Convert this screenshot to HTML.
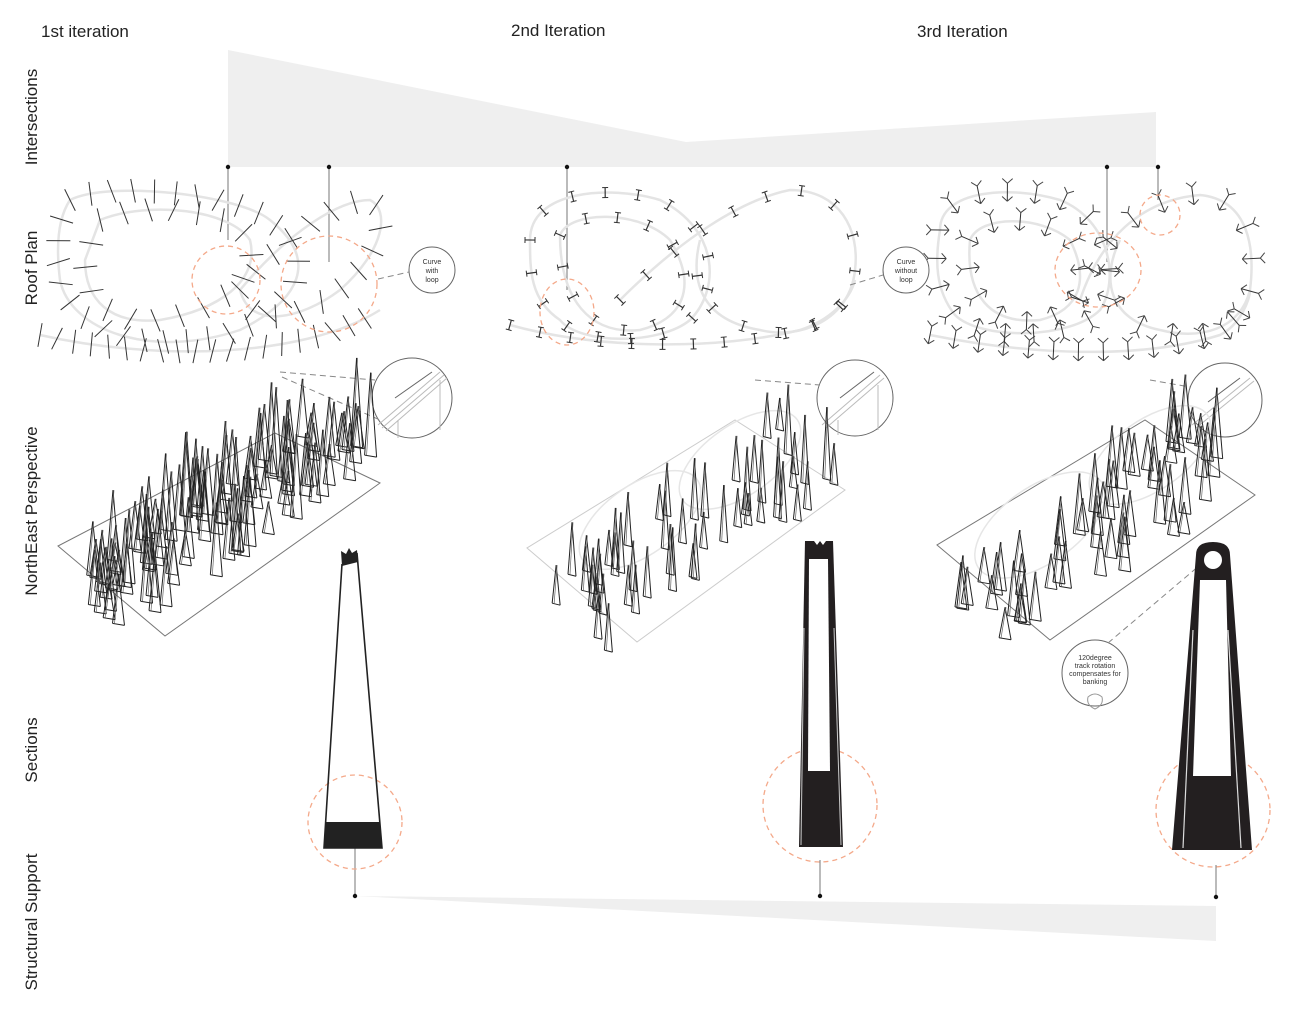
<!DOCTYPE html>
<html><head><meta charset="utf-8"><style>
html,body{margin:0;padding:0;background:#fff;}
svg{display:block;font-family:"Liberation Sans",sans-serif;}
</style></head><body>
<svg id="s" width="1300" height="1015" viewBox="0 0 1300 1015" xmlns="http://www.w3.org/2000/svg">
<rect width="1300" height="1015" fill="#fff"/>
<g font-size="17" fill="#222">
<text x="41" y="37">1st iteration</text>
<text x="511" y="36">2nd Iteration</text>
<text x="917" y="37">3rd Iteration</text>
</g>
<g font-size="17" fill="#222" text-anchor="middle">
<text transform="translate(37,117) rotate(-90)">Intersections</text>
<text transform="translate(37,268) rotate(-90)">Roof Plan</text>
<text transform="translate(37,511) rotate(-90)">NorthEast Perspective</text>
<text transform="translate(37,750) rotate(-90)">Sections</text>
<text transform="translate(37,922) rotate(-90)">Structural Support</text>
</g>
<polygon points="228,50 686,142 1156,112 1156,167 228,167" fill="#efefef"/>
<g stroke="#777" stroke-width="1">
<line x1="228" y1="167" x2="228" y2="240"/><line x1="329" y1="167" x2="329" y2="262"/>
<line x1="567" y1="167" x2="567" y2="290"/><line x1="1107" y1="167" x2="1107" y2="262"/>
<line x1="1158" y1="167" x2="1158" y2="200"/>
</g>
<g fill="#111"><circle cx="228" cy="167" r="2.2"/><circle cx="329" cy="167" r="2.2"/><circle cx="567" cy="167" r="2.2"/><circle cx="1107" cy="167" r="2.2"/><circle cx="1158" cy="167" r="2.2"/></g>
<polygon points="355,896 1216,906 1216,941" fill="#efefef"/>
<g stroke="#777"><line x1="355" y1="848" x2="355" y2="896"/><line x1="820" y1="860" x2="820" y2="896"/><line x1="1216" y1="865" x2="1216" y2="897"/></g>
<g fill="#111"><circle cx="355" cy="896" r="2.2"/><circle cx="820" cy="896" r="2.2"/><circle cx="1216" cy="897" r="2.2"/></g>

<g id="tracks" fill="none" stroke="#e4e4e4" stroke-width="2.5">
<path id="t1a" d="M70,200 C110,180 240,195 270,220 C320,260 300,300 240,330 C150,360 70,330 60,280 C55,240 60,215 70,200 Z"/>
<path id="t1b" d="M100,220 C150,200 230,210 250,240 C260,280 220,310 160,320 C110,325 85,300 85,260 Z"/>
<path id="t1c" d="M240,290 C290,230 340,200 370,200 C390,210 385,250 340,290 C300,320 250,330 240,290 Z"/>
<path id="t1d" d="M40,335 C150,360 300,360 380,310"/>
<path id="t2a" d="M530,240 C530,190 610,185 660,200 C720,230 720,290 690,320 C660,345 580,345 560,320 C530,300 530,270 530,240 Z"/>
<path id="t2b" d="M560,235 C570,210 640,210 670,240 C700,290 680,320 640,330 C590,335 560,300 560,235 Z"/>
<path id="t2c" d="M620,300 C680,240 740,200 790,190 C840,190 860,230 855,270 C850,320 800,340 760,330 C700,320 690,280 700,240"/>
<path id="t2d" d="M510,325 C600,350 720,350 800,330 C830,320 850,300 855,280"/>
<path id="t3a" d="M940,230 C940,190 1010,185 1060,200 C1110,220 1120,280 1100,310 C1070,340 980,340 955,315 C935,290 935,260 940,230 Z"/>
<path id="t3b" d="M970,240 C980,215 1040,215 1070,240 C1090,280 1080,310 1040,320 C990,325 965,295 970,240 Z"/>
<path id="t3c" d="M1080,300 C1100,240 1140,200 1200,195 C1250,200 1255,250 1250,290 C1240,330 1200,340 1160,330 C1110,320 1100,280 1120,240"/>
<path id="t3d" d="M930,335 C1030,355 1140,360 1220,335 C1240,325 1250,300 1250,290"/>
</g>
<g id="ticks"></g>
<g fill="none" stroke="#f4a98a" stroke-width="1.3" stroke-dasharray="5,4">
<circle cx="226" cy="280" r="34"/><circle cx="329" cy="284" r="48"/>
<ellipse cx="567" cy="312" rx="27" ry="33"/>
<ellipse cx="1098" cy="270" rx="43" ry="37"/><ellipse cx="1160" cy="215" rx="20" ry="20"/>
<circle cx="355" cy="822" r="47"/><circle cx="820" cy="805" r="57"/><circle cx="1213" cy="810" r="57"/>
</g>
<g fill="#fff" stroke="#666" stroke-width="1">
<circle cx="432" cy="270" r="23"/><ellipse cx="906" cy="270" rx="23" ry="23"/>
<circle cx="412" cy="398" r="40"/><circle cx="855" cy="398" r="38"/><circle cx="1225" cy="400" r="37"/>
<circle cx="1095" cy="673" r="33"/>
</g>
<g stroke="#888" stroke-dasharray="6,4" fill="none">
<line x1="378" y1="279" x2="409" y2="272"/><line x1="850" y1="285" x2="883" y2="275"/>
<line x1="280" y1="372" x2="375" y2="380"/><line x1="282" y1="377" x2="380" y2="420"/>
<line x1="755" y1="380" x2="820" y2="385"/><line x1="1150" y1="380" x2="1190" y2="387"/>
<line x1="1108" y1="643" x2="1200" y2="565"/>
</g>
<g font-size="7" fill="#333" text-anchor="middle">
<text x="432" y="264">Curve</text><text x="432" y="273">with</text><text x="432" y="282">loop</text>
<text x="906" y="264">Curve</text><text x="906" y="273">without</text><text x="906" y="282">loop</text>
<text x="1095" y="660">120degree</text><text x="1095" y="668">track rotation</text><text x="1095" y="676">compensates for</text><text x="1095" y="684">banking</text>
</g>
<path d="M1088,697 q7,-6 14,0 q2,8 -7,12 q-9,-4 -7,-12z" fill="none" stroke="#999"/>
<g stroke="#bbb" fill="none">
<line x1="378" y1="425" x2="440" y2="372"/><line x1="382" y1="428" x2="444" y2="375"/><line x1="386" y1="431" x2="447" y2="378"/>
<line x1="398" y1="420" x2="398" y2="438"/><line x1="440" y1="380" x2="440" y2="430"/>
<line x1="822" y1="425" x2="880" y2="375"/><line x1="826" y1="428" x2="884" y2="378"/><line x1="838" y1="420" x2="838" y2="435"/><line x1="878" y1="385" x2="878" y2="430"/>
<line x1="1192" y1="425" x2="1250" y2="378"/><line x1="1196" y1="428" x2="1254" y2="381"/><line x1="1210" y1="420" x2="1210" y2="435"/>
</g>
<g stroke="#666"><line x1="395" y1="398" x2="432" y2="372"/><line x1="840" y1="398" x2="874" y2="372"/><line x1="1208" y1="402" x2="1240" y2="378"/></g>
<g fill="none" stroke="#777" stroke-width="1">
<polygon points="58,546 165,636 380,483 275,433"/>
<polygon points="527,548 637,642 845,490 735,420" stroke="#ccc"/>
<polygon points="937,545 1050,640 1255,495 1145,420"/>
</g>
<g fill="none" stroke="#e6e6e6" stroke-width="1.5">
<ellipse cx="640" cy="520" rx="70" ry="35" transform="rotate(-35 640 520)"/>
<ellipse cx="740" cy="460" rx="70" ry="35" transform="rotate(-35 740 460)"/>
<ellipse cx="1040" cy="525" rx="75" ry="38" transform="rotate(-35 1040 525)"/>
<ellipse cx="1150" cy="455" rx="70" ry="35" transform="rotate(-35 1150 455)"/>
</g>
<g id="persp"></g>
<path d="M342,564 L324,848 L382,848 L357,553" fill="none" stroke="#222" stroke-width="1.6"/>
<path d="M341,551 L346,554 L349,548 L352,553 L357,550 L358,562 L342,566 Z" fill="#222"/>
<path d="M326,822 L380,822 L382,848 L324,848 Z" fill="#222"/>
<path d="M805,541 L833,541 L843,847 L799,847 Z" fill="#231f20"/>
<path d="M809,559 L828,559 L830,771 L808,771 Z" fill="#fff"/>
<path d="M814,541 l3,4 l3,-4 l3,4 l3,-4" fill="#fff"/>
<line x1="804" y1="628" x2="801" y2="845" stroke="#ccc" stroke-width="1"/><line x1="834" y1="628" x2="841" y2="845" stroke="#ccc" stroke-width="1"/>
<path d="M1196,555 Q1196,542 1213,542 Q1230,542 1230,555 L1252,850 L1172,850 Z" fill="#231f20"/>
<path d="M1200,580 L1226,580 L1231,776 L1193,776 Z" fill="#fff"/>
<circle cx="1213" cy="560" r="9" fill="#fff"/>
<line x1="1193" y1="630" x2="1183" y2="848" stroke="#ddd" stroke-width="1.2"/><line x1="1228" y1="630" x2="1241" y2="848" stroke="#ddd" stroke-width="1.2"/>
</svg>
<script>
(function(){
var NS="http://www.w3.org/2000/svg";
var tg=document.getElementById('ticks');
var seed=7;function r(){seed=(seed*9301+49297)%233280;return seed/233280;}
function ln(g,x1,y1,x2,y2,c,w){var l=document.createElementNS(NS,'line');l.setAttribute('x1',x1);l.setAttribute('y1',y1);l.setAttribute('x2',x2);l.setAttribute('y2',y2);l.setAttribute('stroke',c||'#333');l.setAttribute('stroke-width',w||1);g.appendChild(l);}
function along(id,n,fn){var p=document.getElementById(id);var L=p.getTotalLength();for(var i=0;i<n;i++){var t=L*i/n;var a=p.getPointAtLength(t),b=p.getPointAtLength(Math.min(L,t+1));var ang=Math.atan2(b.y-a.y,b.x-a.x);fn(a.x,a.y,ang);}}
function tick1(x,y,a){var na=a+Math.PI/2+(r()-.5)*0.8;var l=12;ln(tg,x-Math.cos(na)*l,y-Math.sin(na)*l,x+Math.cos(na)*l,y+Math.sin(na)*l,'#333',1);}
['t1a','t1b','t1c','t1d'].forEach(function(id,i){along(id,[30,18,16,20][i],tick1);});
function tick2(x,y,a){var na=a+Math.PI/2;var l=5;ln(tg,x-Math.cos(na)*l,y-Math.sin(na)*l,x+Math.cos(na)*l,y+Math.sin(na)*l,'#333',1.2);var c=Math.cos(a)*3,s=Math.sin(a)*3;ln(tg,x-Math.cos(na)*l-c,y-Math.sin(na)*l-s,x-Math.cos(na)*l+c,y-Math.sin(na)*l+s,'#333',1);ln(tg,x+Math.cos(na)*l-c,y+Math.sin(na)*l-s,x+Math.cos(na)*l+c,y+Math.sin(na)*l+s,'#333',1);}
['t2a','t2b','t2c','t2d'].forEach(function(id,i){along(id,[16,12,16,12][i],tick2);});
function tick3(x,y,a){var na=a+Math.PI/2;var l=9;ln(tg,x-Math.cos(na)*l,y-Math.sin(na)*l,x+Math.cos(na)*l,y+Math.sin(na)*l,'#333',1);for(var k=-1;k<=1;k+=2){var px=x+Math.cos(na)*l*k,py=y+Math.sin(na)*l*k;ln(tg,px,py,px+Math.cos(na+2.3*k)*7,py+Math.sin(na+2.3*k)*7,'#444',1);ln(tg,px,py,px+Math.cos(na-2.3*k)*7,py+Math.sin(na-2.3*k)*7,'#444',1);}}
['t3a','t3b','t3c','t3d'].forEach(function(id,i){along(id,[18,12,16,14][i],tick3);});
var pg=document.getElementById('persp');
function spikes(cx,cy,n,hmin,hmax,w,spread){for(var i=0;i<n;i++){var u=r(),v=r();var x=cx+(u-.5)*spread[0]+(v-.5)*spread[1];var y=cy-(u-.5)*spread[0]*0.7+(v-.5)*spread[1]*0.8;var h=hmin+r()*(hmax-hmin)*(0.6+u*0.4);var c='#222';ln(pg,x,y,x+w/2,y-h,c,1);ln(pg,x+w,y+2,x+w/2,y-h,c,1);ln(pg,x,y,x+w,y+2,c,1);ln(pg,x+2,y,x+w/2+1,y-h,'#666',0.7);}}
spikes(220,525,110,30,100,12,[250,60]);
spikes(690,540,55,30,75,8,[240,70]);
spikes(1095,540,60,30,70,12,[240,70]);
})();
</script>
</body></html>
